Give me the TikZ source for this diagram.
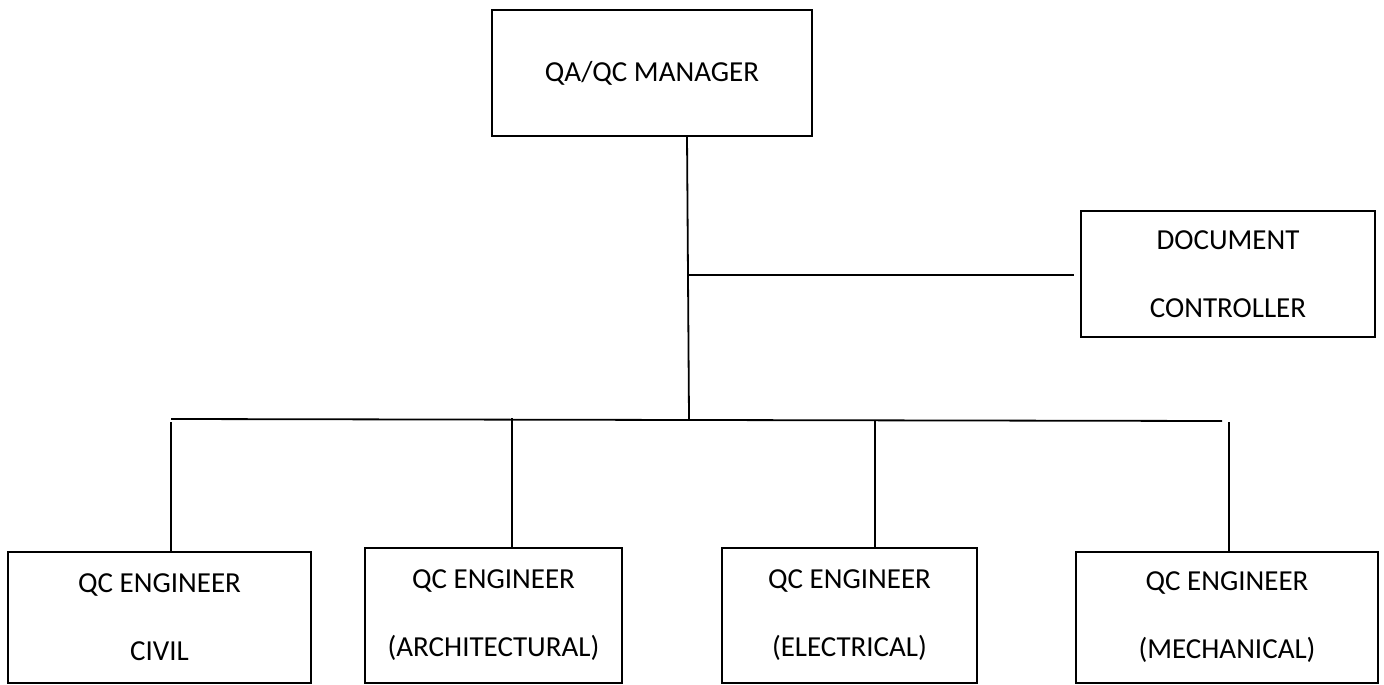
\documentclass[tikz,border=0pt]{standalone}
\usepackage{fontspec}
\setmainfont{Carlito}
\usepackage{tikz}

\tikzset{
  post/.style={draw,line width=0.9pt,align=center,inner sep=0pt,
    font=\fontsize{14.5}{34}\selectfont},
  link/.style={line width=0.9pt}
}

\begin{document}
\begin{tikzpicture}[x=0.5pt,y=-0.5pt]
   \useasboundingbox (0,0) rectangle (1384,684);

   \node[post,minimum width=320*0.5pt,minimum height=126*0.5pt] (mgr) at (652,73) {QA/QC MANAGER};
   \node[post,minimum width=294*0.5pt,minimum height=126*0.5pt] (doc) at (1228,274) {DOCUMENT\\CONTROLLER};

   \node[post,minimum width=303*0.5pt,minimum height=131*0.5pt] (civ) at (159.5,617.5) {QC ENGINEER\\CIVIL};
   \node[post,minimum width=257*0.5pt,minimum height=135*0.5pt] (arch) at (493.5,615.5) {QC ENGINEER\\(ARCHITECTURAL)};
   \node[post,minimum width=255*0.5pt,minimum height=135*0.5pt] (elec) at (849.5,615.5) {QC ENGINEER\\(ELECTRICAL)};
   \node[post,minimum width=302*0.5pt,minimum height=131*0.5pt] (mech) at (1227,617.5) {QC ENGINEER\\(MECHANICAL)};

   \coordinate (t0) at (687,136);
   \coordinate (t1) at (687,275);
   \coordinate (t2) at (689,419);
   \coordinate (d0) at (1074,275);

   \coordinate (b0) at (171,419);
   \coordinate (b1) at (1222,421);
   \coordinate (c1) at (171,422);
   \coordinate (c2) at (512,418);
   \coordinate (c3) at (875,420);
   \coordinate (c4) at (1229,422);

   \path[link] (t0) edge (t2);
   \path[link] (t1) edge (d0);
   \path[link] (b0) edge (b1);

   \path[link] (c1) edge (c1 |- civ.north);
   \path[link] (c2) edge (c2 |- arch.north);
   \path[link] (c3) edge (c3 |- elec.north);
   \path[link] (c4) edge (c4 |- mech.north);
\end{tikzpicture}
\end{document}
